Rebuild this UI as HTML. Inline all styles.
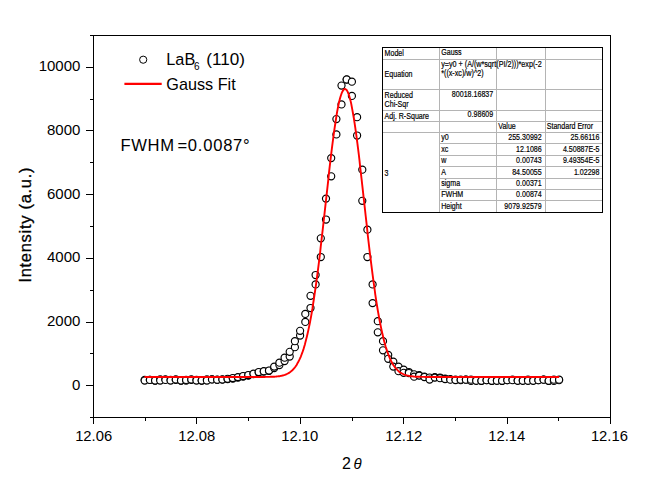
<!DOCTYPE html><html><head><meta charset="utf-8"><style>html,body{margin:0;padding:0;background:#fff}body{width:665px;height:483px;overflow:hidden;position:relative}</style></head><body><svg width="665" height="483" viewBox="0 0 665 483" style="position:absolute;left:0;top:0;font-family:'Liberation Sans',sans-serif">
<rect width="665" height="483" fill="#fff"/>
<g fill="#fff" stroke="#000" stroke-width="1.15">
<circle cx="144.7" cy="379.9" r="3.55"/>
<circle cx="144.7" cy="380.5" r="3.55"/>
<circle cx="149.9" cy="379.9" r="3.55"/>
<circle cx="149.9" cy="379.9" r="3.55"/>
<circle cx="155.1" cy="380.6" r="3.55"/>
<circle cx="155.1" cy="380.5" r="3.55"/>
<circle cx="160.2" cy="379.3" r="3.55"/>
<circle cx="160.2" cy="380.5" r="3.55"/>
<circle cx="165.4" cy="379.3" r="3.55"/>
<circle cx="165.4" cy="379.9" r="3.55"/>
<circle cx="170.6" cy="379.9" r="3.55"/>
<circle cx="170.6" cy="380.5" r="3.55"/>
<circle cx="175.8" cy="379.9" r="3.55"/>
<circle cx="175.8" cy="379.4" r="3.55"/>
<circle cx="181.0" cy="380.6" r="3.55"/>
<circle cx="181.0" cy="380.5" r="3.55"/>
<circle cx="186.1" cy="380.6" r="3.55"/>
<circle cx="186.1" cy="379.9" r="3.55"/>
<circle cx="191.3" cy="379.9" r="3.55"/>
<circle cx="191.3" cy="379.4" r="3.55"/>
<circle cx="196.5" cy="379.9" r="3.55"/>
<circle cx="196.5" cy="380.5" r="3.55"/>
<circle cx="201.7" cy="380.6" r="3.55"/>
<circle cx="201.7" cy="380.5" r="3.55"/>
<circle cx="206.9" cy="379.3" r="3.55"/>
<circle cx="206.9" cy="380.5" r="3.55"/>
<circle cx="212.0" cy="379.3" r="3.55"/>
<circle cx="212.0" cy="379.4" r="3.55"/>
<circle cx="217.2" cy="379.9" r="3.55"/>
<circle cx="217.2" cy="379.7" r="3.55"/>
<circle cx="222.4" cy="379.6" r="3.55"/>
<circle cx="222.4" cy="379.4" r="3.55"/>
<circle cx="227.6" cy="379.2" r="3.55"/>
<circle cx="227.6" cy="378.8" r="3.55"/>
<circle cx="232.8" cy="378.5" r="3.55"/>
<circle cx="232.8" cy="378.0" r="3.55"/>
<circle cx="237.9" cy="377.6" r="3.55"/>
<circle cx="237.9" cy="377.1" r="3.55"/>
<circle cx="243.1" cy="376.5" r="3.55"/>
<circle cx="243.1" cy="376.0" r="3.55"/>
<circle cx="248.3" cy="375.5" r="3.55"/>
<circle cx="248.3" cy="375.0" r="3.55"/>
<circle cx="253.5" cy="374.0" r="3.55"/>
<circle cx="253.5" cy="373.6" r="3.55"/>
<circle cx="258.7" cy="372.5" r="3.55"/>
<circle cx="258.7" cy="372.0" r="3.55"/>
<circle cx="263.8" cy="371.6" r="3.55"/>
<circle cx="263.8" cy="371.2" r="3.55"/>
<circle cx="269.0" cy="370.9" r="3.55"/>
<circle cx="269.0" cy="370.5" r="3.55"/>
<circle cx="274.2" cy="368.1" r="3.55"/>
<circle cx="274.2" cy="366.6" r="3.55"/>
<circle cx="279.4" cy="365.0" r="3.55"/>
<circle cx="279.4" cy="362.7" r="3.55"/>
<circle cx="284.6" cy="361.1" r="3.55"/>
<circle cx="284.6" cy="357.7" r="3.55"/>
<circle cx="289.7" cy="356.5" r="3.55"/>
<circle cx="289.7" cy="351.8" r="3.55"/>
<circle cx="294.9" cy="347.2" r="3.55"/>
<circle cx="294.9" cy="341.2" r="3.55"/>
<circle cx="300.1" cy="335.5" r="3.55"/>
<circle cx="300.1" cy="330.8" r="3.55"/>
<circle cx="305.3" cy="321.9" r="3.55"/>
<circle cx="305.3" cy="313.9" r="3.55"/>
<circle cx="310.5" cy="308.0" r="3.55"/>
<circle cx="310.5" cy="295.8" r="3.55"/>
<circle cx="315.6" cy="284.4" r="3.55"/>
<circle cx="315.6" cy="275.0" r="3.55"/>
<circle cx="320.8" cy="257.0" r="3.55"/>
<circle cx="320.8" cy="238.3" r="3.55"/>
<circle cx="326.0" cy="219.5" r="3.55"/>
<circle cx="326.0" cy="198.6" r="3.55"/>
<circle cx="331.2" cy="176.3" r="3.55"/>
<circle cx="331.2" cy="158.1" r="3.55"/>
<circle cx="336.4" cy="134.4" r="3.55"/>
<circle cx="336.4" cy="119.1" r="3.55"/>
<circle cx="341.5" cy="104.4" r="3.55"/>
<circle cx="341.5" cy="85.6" r="3.55"/>
<circle cx="346.7" cy="79.6" r="3.55"/>
<circle cx="346.7" cy="79.4" r="3.55"/>
<circle cx="351.9" cy="81.7" r="3.55"/>
<circle cx="351.9" cy="95.9" r="3.55"/>
<circle cx="357.1" cy="117.2" r="3.55"/>
<circle cx="357.1" cy="135.5" r="3.55"/>
<circle cx="362.3" cy="169.7" r="3.55"/>
<circle cx="362.3" cy="200.8" r="3.55"/>
<circle cx="367.4" cy="229.7" r="3.55"/>
<circle cx="367.4" cy="257.0" r="3.55"/>
<circle cx="372.6" cy="284.4" r="3.55"/>
<circle cx="372.6" cy="303.1" r="3.55"/>
<circle cx="377.8" cy="321.2" r="3.55"/>
<circle cx="377.8" cy="332.3" r="3.55"/>
<circle cx="383.0" cy="341.2" r="3.55"/>
<circle cx="383.0" cy="350.3" r="3.55"/>
<circle cx="388.2" cy="354.9" r="3.55"/>
<circle cx="388.2" cy="358.8" r="3.55"/>
<circle cx="393.3" cy="361.6" r="3.55"/>
<circle cx="393.3" cy="366.6" r="3.55"/>
<circle cx="398.5" cy="366.6" r="3.55"/>
<circle cx="398.5" cy="371.2" r="3.55"/>
<circle cx="403.7" cy="369.7" r="3.55"/>
<circle cx="403.7" cy="372.8" r="3.55"/>
<circle cx="408.9" cy="372.0" r="3.55"/>
<circle cx="408.9" cy="373.0" r="3.55"/>
<circle cx="414.1" cy="374.3" r="3.55"/>
<circle cx="414.1" cy="376.7" r="3.55"/>
<circle cx="419.2" cy="375.1" r="3.55"/>
<circle cx="419.2" cy="375.6" r="3.55"/>
<circle cx="424.4" cy="376.7" r="3.55"/>
<circle cx="424.4" cy="377.0" r="3.55"/>
<circle cx="429.6" cy="377.5" r="3.55"/>
<circle cx="429.6" cy="379.5" r="3.55"/>
<circle cx="434.8" cy="377.1" r="3.55"/>
<circle cx="434.8" cy="377.6" r="3.55"/>
<circle cx="440.0" cy="377.5" r="3.55"/>
<circle cx="440.0" cy="378.2" r="3.55"/>
<circle cx="445.1" cy="378.5" r="3.55"/>
<circle cx="445.1" cy="379.0" r="3.55"/>
<circle cx="450.3" cy="379.2" r="3.55"/>
<circle cx="450.3" cy="379.7" r="3.55"/>
<circle cx="455.5" cy="379.7" r="3.55"/>
<circle cx="455.5" cy="380.1" r="3.55"/>
<circle cx="460.7" cy="380.2" r="3.55"/>
<circle cx="460.7" cy="379.7" r="3.55"/>
<circle cx="465.9" cy="379.6" r="3.55"/>
<circle cx="465.9" cy="379.7" r="3.55"/>
<circle cx="471.0" cy="380.9" r="3.55"/>
<circle cx="471.0" cy="379.7" r="3.55"/>
<circle cx="476.2" cy="380.2" r="3.55"/>
<circle cx="476.2" cy="380.8" r="3.55"/>
<circle cx="481.4" cy="380.9" r="3.55"/>
<circle cx="481.4" cy="380.8" r="3.55"/>
<circle cx="486.6" cy="380.2" r="3.55"/>
<circle cx="486.6" cy="380.2" r="3.55"/>
<circle cx="491.8" cy="380.9" r="3.55"/>
<circle cx="491.8" cy="380.8" r="3.55"/>
<circle cx="496.9" cy="380.2" r="3.55"/>
<circle cx="496.9" cy="380.8" r="3.55"/>
<circle cx="502.1" cy="380.9" r="3.55"/>
<circle cx="502.1" cy="380.8" r="3.55"/>
<circle cx="507.3" cy="380.2" r="3.55"/>
<circle cx="507.3" cy="380.2" r="3.55"/>
<circle cx="512.5" cy="379.6" r="3.55"/>
<circle cx="512.5" cy="380.2" r="3.55"/>
<circle cx="517.7" cy="380.2" r="3.55"/>
<circle cx="517.7" cy="380.8" r="3.55"/>
<circle cx="522.8" cy="380.2" r="3.55"/>
<circle cx="522.8" cy="380.8" r="3.55"/>
<circle cx="528.0" cy="379.6" r="3.55"/>
<circle cx="528.0" cy="380.8" r="3.55"/>
<circle cx="533.2" cy="380.2" r="3.55"/>
<circle cx="533.2" cy="380.8" r="3.55"/>
<circle cx="538.4" cy="380.2" r="3.55"/>
<circle cx="538.4" cy="380.2" r="3.55"/>
<circle cx="543.6" cy="379.6" r="3.55"/>
<circle cx="543.6" cy="379.7" r="3.55"/>
<circle cx="548.7" cy="380.9" r="3.55"/>
<circle cx="548.7" cy="380.8" r="3.55"/>
<circle cx="553.9" cy="380.9" r="3.55"/>
<circle cx="553.9" cy="379.7" r="3.55"/>
<circle cx="559.1" cy="380.2" r="3.55"/>
<circle cx="559.1" cy="379.7" r="3.55"/>
</g>
<path d="M144.5 377.0L145.2 377.0L145.9 377.0L146.6 377.0L147.3 377.0L148.0 377.0L148.6 377.0L149.3 377.0L150.0 377.0L150.7 377.0L151.4 377.0L152.1 377.0L152.8 377.0L153.5 377.0L154.2 377.0L154.9 377.0L155.6 377.0L156.2 377.0L156.9 377.0L157.6 377.0L158.3 377.0L159.0 377.0L159.7 377.0L160.4 377.0L161.1 377.0L161.8 377.0L162.5 377.0L163.2 377.0L163.9 377.0L164.5 377.0L165.2 377.0L165.9 377.0L166.6 377.0L167.3 377.0L168.0 377.0L168.7 377.0L169.4 377.0L170.1 377.0L170.8 377.0L171.5 377.0L172.1 377.0L172.8 377.0L173.5 377.0L174.2 377.0L174.9 377.0L175.6 377.0L176.3 377.0L177.0 377.0L177.7 377.0L178.4 377.0L179.1 377.0L179.7 377.0L180.4 377.0L181.1 377.0L181.8 377.0L182.5 377.0L183.2 377.0L183.9 377.0L184.6 377.0L185.3 377.0L186.0 377.0L186.7 377.0L187.4 377.0L188.0 377.0L188.7 377.0L189.4 377.0L190.1 377.0L190.8 377.0L191.5 377.0L192.2 377.0L192.9 377.0L193.6 377.0L194.3 377.0L195.0 377.0L195.6 377.0L196.3 377.0L197.0 377.0L197.7 377.0L198.4 377.0L199.1 377.0L199.8 377.0L200.5 377.0L201.2 377.0L201.9 377.0L202.6 377.0L203.2 377.0L203.9 377.0L204.6 377.0L205.3 377.0L206.0 377.0L206.7 377.0L207.4 377.0L208.1 377.0L208.8 377.0L209.5 377.0L210.2 377.0L210.9 377.0L211.5 377.0L212.2 377.0L212.9 377.0L213.6 377.0L214.3 377.0L215.0 377.0L215.7 377.0L216.4 377.0L217.1 377.0L217.8 377.0L218.5 377.0L219.1 377.0L219.8 377.0L220.5 377.0L221.2 377.0L221.9 377.0L222.6 377.0L223.3 377.0L224.0 377.0L224.7 377.0L225.4 377.0L226.1 377.0L226.7 377.0L227.4 377.0L228.1 377.0L228.8 377.0L229.5 377.0L230.2 377.0L230.9 377.0L231.6 377.0L232.3 377.0L233.0 377.0L233.7 377.0L234.4 377.0L235.0 377.0L235.7 377.0L236.4 377.0L237.1 377.0L237.8 377.0L238.5 377.0L239.2 377.0L239.9 377.0L240.6 377.0L241.3 377.0L242.0 377.0L242.6 377.0L243.3 377.0L244.0 377.0L244.7 377.0L245.4 377.0L246.1 377.0L246.8 377.0L247.5 377.0L248.2 377.0L248.9 377.0L249.6 377.0L250.2 377.0L250.9 377.0L251.6 377.0L252.3 377.0L253.0 377.0L253.7 377.0L254.4 377.0L255.1 377.0L255.8 377.0L256.5 377.0L257.2 377.0L257.9 377.0L258.5 377.0L259.2 377.0L259.9 377.0L260.6 377.0L261.3 377.0L262.0 377.0L262.7 377.0L263.4 377.0L264.1 377.0L264.8 377.0L265.5 376.9L266.1 376.9L266.8 376.9L267.5 376.9L268.2 376.9L268.9 376.9L269.6 376.9L270.3 376.8L271.0 376.8L271.7 376.8L272.4 376.8L273.1 376.7L273.7 376.7L274.4 376.7L275.1 376.6L275.8 376.6L276.5 376.5L277.2 376.4L277.9 376.4L278.6 376.3L279.3 376.2L280.0 376.1L280.7 375.9L281.4 375.8L282.0 375.7L282.7 375.5L283.4 375.3L284.1 375.1L284.8 374.9L285.5 374.6L286.2 374.3L286.9 374.0L287.6 373.7L288.3 373.3L289.0 372.9L289.6 372.4L290.3 372.0L291.0 371.4L291.7 370.8L292.4 370.2L293.1 369.5L293.8 368.7L294.5 367.9L295.2 367.0L295.9 366.0L296.6 365.0L297.2 363.8L297.9 362.6L298.6 361.3L299.3 359.9L300.0 358.4L300.7 356.8L301.4 355.0L302.1 353.2L302.8 351.2L303.5 349.1L304.2 346.8L304.9 344.5L305.5 341.9L306.2 339.3L306.9 336.5L307.6 333.5L308.3 330.4L309.0 327.1L309.7 323.7L310.4 320.1L311.1 316.3L311.8 312.3L312.5 308.2L313.1 304.0L313.8 299.5L314.5 294.9L315.2 290.2L315.9 285.3L316.6 280.2L317.3 275.0L318.0 269.6L318.7 264.1L319.4 258.5L320.1 252.8L320.7 246.9L321.4 241.0L322.1 234.9L322.8 228.8L323.5 222.6L324.2 216.4L324.9 210.1L325.6 203.9L326.3 197.6L327.0 191.3L327.7 185.1L328.4 178.9L329.0 172.7L329.7 166.7L330.4 160.7L331.1 154.9L331.8 149.2L332.5 143.7L333.2 138.3L333.9 133.2L334.6 128.2L335.3 123.5L336.0 119.0L336.6 114.8L337.3 110.8L338.0 107.2L338.7 103.8L339.4 100.8L340.1 98.1L340.8 95.7L341.5 93.7L342.2 92.0L342.9 90.7L343.6 89.8L344.2 89.2L344.9 89.0L345.6 89.2L346.3 89.7L347.0 90.6L347.7 91.9L348.4 93.5L349.1 95.5L349.8 97.9L350.5 100.6L351.2 103.6L351.8 106.9L352.5 110.6L353.2 114.5L353.9 118.7L354.6 123.2L355.3 127.9L356.0 132.8L356.7 138.0L357.4 143.3L358.1 148.8L358.8 154.5L359.5 160.3L360.1 166.3L360.8 172.3L361.5 178.4L362.2 184.6L362.9 190.9L363.6 197.1L364.3 203.4L365.0 209.7L365.7 216.0L366.4 222.2L367.1 228.4L367.7 234.5L368.4 240.5L369.1 246.5L369.8 252.4L370.5 258.1L371.2 263.7L371.9 269.2L372.6 274.6L373.3 279.8L374.0 284.9L374.7 289.8L375.3 294.6L376.0 299.2L376.7 303.7L377.4 308.0L378.1 312.1L378.8 316.0L379.5 319.8L380.2 323.4L380.9 326.9L381.6 330.2L382.3 333.3L383.0 336.3L383.6 339.1L384.3 341.8L385.0 344.3L385.7 346.7L386.4 348.9L387.1 351.0L387.8 353.0L388.5 354.9L389.2 356.6L389.9 358.3L390.6 359.8L391.2 361.2L391.9 362.5L392.6 363.8L393.3 364.9L394.0 366.0L394.7 366.9L395.4 367.8L396.1 368.7L396.8 369.4L397.5 370.1L398.2 370.8L398.8 371.4L399.5 371.9L400.2 372.4L400.9 372.9L401.6 373.3L402.3 373.7L403.0 374.0L403.7 374.3L404.4 374.6L405.1 374.8L405.8 375.1L406.5 375.3L407.1 375.5L407.8 375.6L408.5 375.8L409.2 375.9L409.9 376.1L410.6 376.2L411.3 376.3L412.0 376.3L412.7 376.4L413.4 376.5L414.1 376.6L414.7 376.6L415.4 376.7L416.1 376.7L416.8 376.7L417.5 376.8L418.2 376.8L418.9 376.8L419.6 376.8L420.3 376.9L421.0 376.9L421.7 376.9L422.3 376.9L423.0 376.9L423.7 376.9L424.4 376.9L425.1 377.0L425.8 377.0L426.5 377.0L427.2 377.0L427.9 377.0L428.6 377.0L429.3 377.0L430.0 377.0L430.6 377.0L431.3 377.0L432.0 377.0L432.7 377.0L433.4 377.0L434.1 377.0L434.8 377.0L435.5 377.0L436.2 377.0L436.9 377.0L437.6 377.0L438.2 377.0L438.9 377.0L439.6 377.0L440.3 377.0L441.0 377.0L441.7 377.0L442.4 377.0L443.1 377.0L443.8 377.0L444.5 377.0L445.2 377.0L445.8 377.0L446.5 377.0L447.2 377.0L447.9 377.0L448.6 377.0L449.3 377.0L450.0 377.0L450.7 377.0L451.4 377.0L452.1 377.0L452.8 377.0L453.5 377.0L454.1 377.0L454.8 377.0L455.5 377.0L456.2 377.0L456.9 377.0L457.6 377.0L458.3 377.0L459.0 377.0L459.7 377.0L460.4 377.0L461.1 377.0L461.7 377.0L462.4 377.0L463.1 377.0L463.8 377.0L464.5 377.0L465.2 377.0L465.9 377.0L466.6 377.0L467.3 377.0L468.0 377.0L468.7 377.0L469.3 377.0L470.0 377.0L470.7 377.0L471.4 377.0L472.1 377.0L472.8 377.0L473.5 377.0L474.2 377.0L474.9 377.0L475.6 377.0L476.3 377.0L477.0 377.0L477.6 377.0L478.3 377.0L479.0 377.0L479.7 377.0L480.4 377.0L481.1 377.0L481.8 377.0L482.5 377.0L483.2 377.0L483.9 377.0L484.6 377.0L485.2 377.0L485.9 377.0L486.6 377.0L487.3 377.0L488.0 377.0L488.7 377.0L489.4 377.0L490.1 377.0L490.8 377.0L491.5 377.0L492.2 377.0L492.8 377.0L493.5 377.0L494.2 377.0L494.9 377.0L495.6 377.0L496.3 377.0L497.0 377.0L497.7 377.0L498.4 377.0L499.1 377.0L499.8 377.0L500.5 377.0L501.1 377.0L501.8 377.0L502.5 377.0L503.2 377.0L503.9 377.0L504.6 377.0L505.3 377.0L506.0 377.0L506.7 377.0L507.4 377.0L508.1 377.0L508.7 377.0L509.4 377.0L510.1 377.0L510.8 377.0L511.5 377.0L512.2 377.0L512.9 377.0L513.6 377.0L514.3 377.0L515.0 377.0L515.7 377.0L516.3 377.0L517.0 377.0L517.7 377.0L518.4 377.0L519.1 377.0L519.8 377.0L520.5 377.0L521.2 377.0L521.9 377.0L522.6 377.0L523.3 377.0L524.0 377.0L524.6 377.0L525.3 377.0L526.0 377.0L526.7 377.0L527.4 377.0L528.1 377.0L528.8 377.0L529.5 377.0L530.2 377.0L530.9 377.0L531.6 377.0L532.2 377.0L532.9 377.0L533.6 377.0L534.3 377.0L535.0 377.0L535.7 377.0L536.4 377.0L537.1 377.0L537.8 377.0L538.5 377.0L539.2 377.0L539.8 377.0L540.5 377.0L541.2 377.0L541.9 377.0L542.6 377.0L543.3 377.0L544.0 377.0L544.7 377.0L545.4 377.0L546.1 377.0L546.8 377.0L547.5 377.0L548.1 377.0L548.8 377.0L549.5 377.0L550.2 377.0L550.9 377.0L551.6 377.0L552.3 377.0L553.0 377.0L553.7 377.0L554.4 377.0L555.1 377.0L555.7 377.0L556.4 377.0L557.1 377.0L557.8 377.0L558.5 377.0L559.2 377.0" fill="none" stroke="#ff0000" stroke-width="1.9" stroke-linejoin="round"/>
<g stroke="#000" stroke-width="1" fill="none" shape-rendering="crispEdges">
<rect x="93.5" y="35.5" width="517.0" height="382.0"/>
<line x1="90.0" y1="417.5" x2="93.5" y2="417.5"/>
<line x1="86.0" y1="385.5" x2="93.5" y2="385.5"/>
<line x1="90.0" y1="353.5" x2="93.5" y2="353.5"/>
<line x1="86.0" y1="322.5" x2="93.5" y2="322.5"/>
<line x1="90.0" y1="290.5" x2="93.5" y2="290.5"/>
<line x1="86.0" y1="258.5" x2="93.5" y2="258.5"/>
<line x1="90.0" y1="226.5" x2="93.5" y2="226.5"/>
<line x1="86.0" y1="194.5" x2="93.5" y2="194.5"/>
<line x1="90.0" y1="162.5" x2="93.5" y2="162.5"/>
<line x1="86.0" y1="130.5" x2="93.5" y2="130.5"/>
<line x1="90.0" y1="99.5" x2="93.5" y2="99.5"/>
<line x1="86.0" y1="67.5" x2="93.5" y2="67.5"/>
<line x1="90.0" y1="35.5" x2="93.5" y2="35.5"/>
<line x1="93.5" y1="417.5" x2="93.5" y2="424.0"/>
<line x1="145.5" y1="417.5" x2="145.5" y2="421.0"/>
<line x1="196.5" y1="417.5" x2="196.5" y2="424.0"/>
<line x1="248.5" y1="417.5" x2="248.5" y2="421.0"/>
<line x1="300.5" y1="417.5" x2="300.5" y2="424.0"/>
<line x1="352.5" y1="417.5" x2="352.5" y2="421.0"/>
<line x1="403.5" y1="417.5" x2="403.5" y2="424.0"/>
<line x1="455.5" y1="417.5" x2="455.5" y2="421.0"/>
<line x1="507.5" y1="417.5" x2="507.5" y2="424.0"/>
<line x1="558.5" y1="417.5" x2="558.5" y2="421.0"/>
<line x1="610.5" y1="417.5" x2="610.5" y2="424.0"/>
</g>
<g font-size="15px" fill="#000">
<text x="80.4" y="389.6" text-anchor="end">0</text>
<text x="80.4" y="325.9" text-anchor="end">2000</text>
<text x="80.4" y="262.2" text-anchor="end">4000</text>
<text x="80.4" y="198.6" text-anchor="end">6000</text>
<text x="80.4" y="134.9" text-anchor="end">8000</text>
<text x="80.4" y="71.2" text-anchor="end">10000</text>
<text x="93.65" y="440.7" text-anchor="middle" font-size="14.8px">12.06</text>
<text x="196.70" y="440.7" text-anchor="middle" font-size="14.8px">12.08</text>
<text x="299.80" y="440.7" text-anchor="middle" font-size="14.8px">12.10</text>
<text x="403.70" y="440.7" text-anchor="middle" font-size="14.8px">12.12</text>
<text x="506.70" y="440.7" text-anchor="middle" font-size="14.8px">12.14</text>
<text x="609.40" y="440.7" text-anchor="middle" font-size="14.8px">12.16</text>
</g>
<text transform="translate(30.6,282.6) rotate(-90)" font-size="16.5px" letter-spacing="0.7" stroke="#000" stroke-width="0.3">Intensity (a.u.)</text>
<text x="342" y="468.7" font-size="16px">2<tspan dx="2.6" dy="0.3" font-size="15px" font-style="italic">θ</tspan></text>
<circle cx="143.2" cy="59.7" r="3.6" fill="#fff" stroke="#000" stroke-width="1"/>
<line x1="124.4" y1="83.8" x2="161.7" y2="83.8" stroke="#ff0000" stroke-width="2.2"/>
<text transform="translate(166.3,65) scale(0.98,1)" font-size="16.6px">LaB</text>
<text x="194" y="69.6" font-size="10px">6</text>
<text transform="translate(206.2,65) scale(1.03,1)" font-size="16.6px">(110)</text>
<text transform="translate(166.3,89.6) scale(0.977,1)" font-size="16.6px">Gauss Fit</text>
<text x="120.6" y="151" font-size="16.6px" letter-spacing="0.6">FWHM</text>
<text x="177.4" y="151" font-size="16.6px" letter-spacing="0.75">=0.0087°</text>
<rect x="382.5" y="47.5" width="220" height="165" fill="#fff"/>
<g stroke="#b4b4b4" stroke-width="1" shape-rendering="crispEdges">
<line x1="382.5" y1="59.5" x2="602.5" y2="59.5"/>
<line x1="382.5" y1="89.5" x2="602.5" y2="89.5"/>
<line x1="382.5" y1="110.5" x2="602.5" y2="110.5"/>
<line x1="382.5" y1="121.5" x2="602.5" y2="121.5"/>
<line x1="382.5" y1="132.5" x2="602.5" y2="132.5"/>
<line x1="439.5" y1="143.5" x2="602.5" y2="143.5"/>
<line x1="439.5" y1="155.5" x2="602.5" y2="155.5"/>
<line x1="439.5" y1="166.5" x2="602.5" y2="166.5"/>
<line x1="439.5" y1="178.5" x2="602.5" y2="178.5"/>
<line x1="439.5" y1="189.5" x2="602.5" y2="189.5"/>
<line x1="439.5" y1="200.5" x2="602.5" y2="200.5"/>
<line x1="439.5" y1="47.5" x2="439.5" y2="212.5"/>
<line x1="496.5" y1="47.5" x2="496.5" y2="212.5"/>
<line x1="545.5" y1="47.5" x2="545.5" y2="212.5"/>
</g>
<rect x="382.5" y="47.5" width="220" height="165" fill="none" stroke="#000" stroke-width="1" shape-rendering="crispEdges"/>
<text transform="translate(384.6,56.0) scale(0.770,1)" font-size="9.2px" text-anchor="start" stroke="#000" stroke-width="0.2">Model</text>
<text transform="translate(441.2,54.8) scale(0.770,1)" font-size="9.2px" text-anchor="start" stroke="#000" stroke-width="0.2">Gauss</text>
<text transform="translate(384.6,76.7) scale(0.770,1)" font-size="9.2px" text-anchor="start" stroke="#000" stroke-width="0.2">Equation</text>
<text transform="translate(441.2,66.9) scale(0.800,1)" font-size="9.0px" text-anchor="start" stroke="#000" stroke-width="0.2">y=y0 + (A/(w*sqrt(PI/2)))*exp(-2</text>
<text transform="translate(441.2,75.9) scale(0.800,1)" font-size="9.0px" text-anchor="start" stroke="#000" stroke-width="0.2">*((x-xc)/w)^2)</text>
<text transform="translate(384.6,97.5) scale(0.770,1)" font-size="9.2px" text-anchor="start" stroke="#000" stroke-width="0.2">Reduced</text>
<text transform="translate(384.6,107.0) scale(0.770,1)" font-size="9.2px" text-anchor="start" stroke="#000" stroke-width="0.2">Chi-Sqr</text>
<text transform="translate(493.2,97.1) scale(0.770,1)" font-size="9.2px" text-anchor="end" stroke="#000" stroke-width="0.2">80018.16837</text>
<text transform="translate(384.6,118.9) scale(0.770,1)" font-size="9.2px" text-anchor="start" stroke="#000" stroke-width="0.2">Adj. R-Square</text>
<text transform="translate(493.2,117.4) scale(0.770,1)" font-size="9.2px" text-anchor="end" stroke="#000" stroke-width="0.2">0.98609</text>
<text transform="translate(498.2,129.3) scale(0.770,1)" font-size="9.2px" text-anchor="start" stroke="#000" stroke-width="0.2">Value</text>
<text transform="translate(546.7,129.3) scale(0.770,1)" font-size="9.2px" text-anchor="start" stroke="#000" stroke-width="0.2">Standard Error</text>
<text transform="translate(384.6,175.9) scale(0.770,1)" font-size="9.2px" text-anchor="start" stroke="#000" stroke-width="0.2">3</text>
<text transform="translate(441.2,140.2) scale(0.770,1)" font-size="9.2px" text-anchor="start" stroke="#000" stroke-width="0.2">y0</text>
<text transform="translate(541.7,140.2) scale(0.770,1)" font-size="9.2px" text-anchor="end" stroke="#000" stroke-width="0.2">255.30992</text>
<text transform="translate(599.5,140.2) scale(0.770,1)" font-size="9.2px" text-anchor="end" stroke="#000" stroke-width="0.2">25.66116</text>
<text transform="translate(441.2,152.2) scale(0.770,1)" font-size="9.2px" text-anchor="start" stroke="#000" stroke-width="0.2">xc</text>
<text transform="translate(541.7,152.2) scale(0.770,1)" font-size="9.2px" text-anchor="end" stroke="#000" stroke-width="0.2">12.1086</text>
<text transform="translate(599.5,152.2) scale(0.770,1)" font-size="9.2px" text-anchor="end" stroke="#000" stroke-width="0.2">4.50887E-5</text>
<text transform="translate(441.2,163.2) scale(0.770,1)" font-size="9.2px" text-anchor="start" stroke="#000" stroke-width="0.2">w</text>
<text transform="translate(541.7,163.2) scale(0.770,1)" font-size="9.2px" text-anchor="end" stroke="#000" stroke-width="0.2">0.00743</text>
<text transform="translate(599.5,163.2) scale(0.770,1)" font-size="9.2px" text-anchor="end" stroke="#000" stroke-width="0.2">9.49354E-5</text>
<text transform="translate(441.2,175.2) scale(0.770,1)" font-size="9.2px" text-anchor="start" stroke="#000" stroke-width="0.2">A</text>
<text transform="translate(541.7,175.2) scale(0.770,1)" font-size="9.2px" text-anchor="end" stroke="#000" stroke-width="0.2">84.50055</text>
<text transform="translate(599.5,175.2) scale(0.770,1)" font-size="9.2px" text-anchor="end" stroke="#000" stroke-width="0.2">1.02298</text>
<text transform="translate(441.2,186.2) scale(0.770,1)" font-size="9.2px" text-anchor="start" stroke="#000" stroke-width="0.2">sigma</text>
<text transform="translate(541.7,186.2) scale(0.770,1)" font-size="9.2px" text-anchor="end" stroke="#000" stroke-width="0.2">0.00371</text>
<text transform="translate(441.2,197.2) scale(0.770,1)" font-size="9.2px" text-anchor="start" stroke="#000" stroke-width="0.2">FWHM</text>
<text transform="translate(541.7,197.2) scale(0.770,1)" font-size="9.2px" text-anchor="end" stroke="#000" stroke-width="0.2">0.00874</text>
<text transform="translate(441.2,209.2) scale(0.770,1)" font-size="9.2px" text-anchor="start" stroke="#000" stroke-width="0.2">Height</text>
<text transform="translate(541.7,209.2) scale(0.770,1)" font-size="9.2px" text-anchor="end" stroke="#000" stroke-width="0.2">9079.92579</text>
</svg></body></html>
